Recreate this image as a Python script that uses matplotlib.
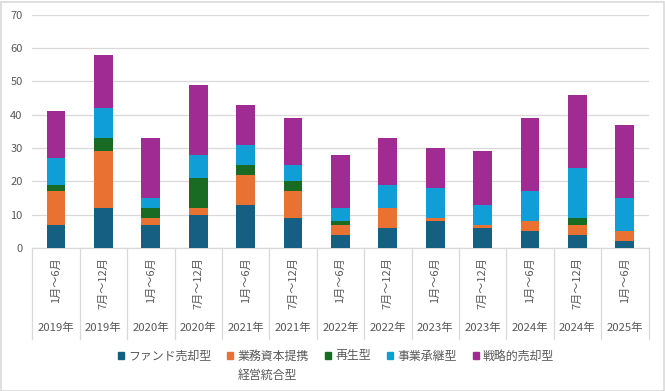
import matplotlib
matplotlib.use("Agg")
import matplotlib.pyplot as plt
import numpy as np
from matplotlib.lines import Line2D
from matplotlib.patches import Rectangle
from matplotlib.transforms import blended_transform_factory

plt.rcParams["font.family"] = ["Noto Sans CJK JP", "DejaVu Sans"]

# data
years = ["2019年", "2019年", "2020年", "2020年", "2021年", "2021年", "2022年",
         "2022年", "2023年", "2023年", "2024年", "2024年", "2025年"]
halves = ["1月～6月", "7月～12月"] * 6 + ["1月～6月"]

fund_sale = [7, 12, 7, 10, 13, 9, 4, 6, 8, 6, 5, 4, 2]
alliance = [10, 17, 2, 2, 9, 8, 3, 6, 1, 1, 3, 3, 3]
revival = [2, 4, 3, 9, 3, 3, 1, 0, 0, 0, 0, 2, 0]
succession = [8, 9, 3, 7, 6, 5, 4, 7, 9, 6, 9, 15, 10]
strategic = [14, 16, 18, 21, 12, 14, 16, 14, 12, 16, 22, 22, 22]

series = [
    ("ファンド売却型", fund_sale, "#156082"),
    ("業務資本提携", alliance, "#E97132"),
    ("再生型", revival, "#196B24"),
    ("事業承継型", succession, "#0F9ED5"),
    ("戦略的売却型", strategic, "#A02B93"),
]
extra_label = "経営統合型"

W, H = 665, 391
fig = plt.figure(figsize=(W / 100, H / 100), dpi=100)
ax = fig.add_axes([32.3 / W, 1 - 248 / H, (648.5 - 32.3) / W, (248 - 14.7) / H])

text_color = "#595959"
grid_color = "#d9d9d9"

x = np.arange(len(years))
bottom = np.zeros(len(years))
handles = []
for name, vals, color in series:
    vals = np.array(vals, dtype=float)
    ax.bar(x, vals, width=0.4, bottom=bottom, color=color, zorder=3)
    bottom += vals
    handles.append(Rectangle((0, 0), 1, 1, color=color))

ax.set_xlim(-0.5, len(years) - 0.5)
ax.set_ylim(0, 70)
ax.set_yticks(range(0, 71, 10))
ax.set_xticks([])
ax.yaxis.grid(True, color=grid_color, linewidth=0.9, zorder=0)
ax.tick_params(axis="y", length=0, pad=7, labelsize=8, labelcolor=text_color)
for side in ["top", "right", "left"]:
    ax.spines[side].set_visible(False)
ax.spines["bottom"].set_color(grid_color)
ax.spines["bottom"].set_linewidth(0.9)

# two-level category axis
tr = blended_transform_factory(ax.transData, fig.transFigure)
y_axis = 1 - 248 / H
y_sep_end = 1 - 339 / H
for i in range(len(years) + 1):
    ax.add_line(Line2D([i - 0.5, i - 0.5], [y_axis, y_sep_end], transform=tr,
                       color=grid_color, linewidth=0.9, clip_on=False))
for i, (yr, hf) in enumerate(zip(years, halves)):
    ax.text(i, 1 - 257 / H, hf, transform=tr, rotation=90, ha="center", va="top",
            fontsize=8, color=text_color)
    ax.text(i, 1 - 328 / H, yr, transform=tr, ha="center", va="center",
            fontsize=8.2, color=text_color)

leg = fig.legend(handles, [s[0] for s in series], loc="center",
                 bbox_to_anchor=(336 / W, 1 - 356 / H), ncol=5, frameon=False,
                 fontsize=8.6, handlelength=0.5, handleheight=0.5,
                 handletextpad=0.35, columnspacing=1.35, labelcolor=text_color)

# second line of the orange entry, aligned under its text
fig.canvas.draw()
bb = leg.get_texts()[1].get_window_extent()
fig.text(bb.x0 / W, 1 - 375 / H, extra_label, ha="left", va="center",
         fontsize=8.6, color=text_color)

# chart border
fig.add_artist(Rectangle((0.5 / W, 0.5 / H), (W - 2) / W, (H - 2) / H,
                         transform=fig.transFigure, fill=False,
                         edgecolor="#d9d9d9", linewidth=1.2))

fig.savefig("out.png", dpi=100)
